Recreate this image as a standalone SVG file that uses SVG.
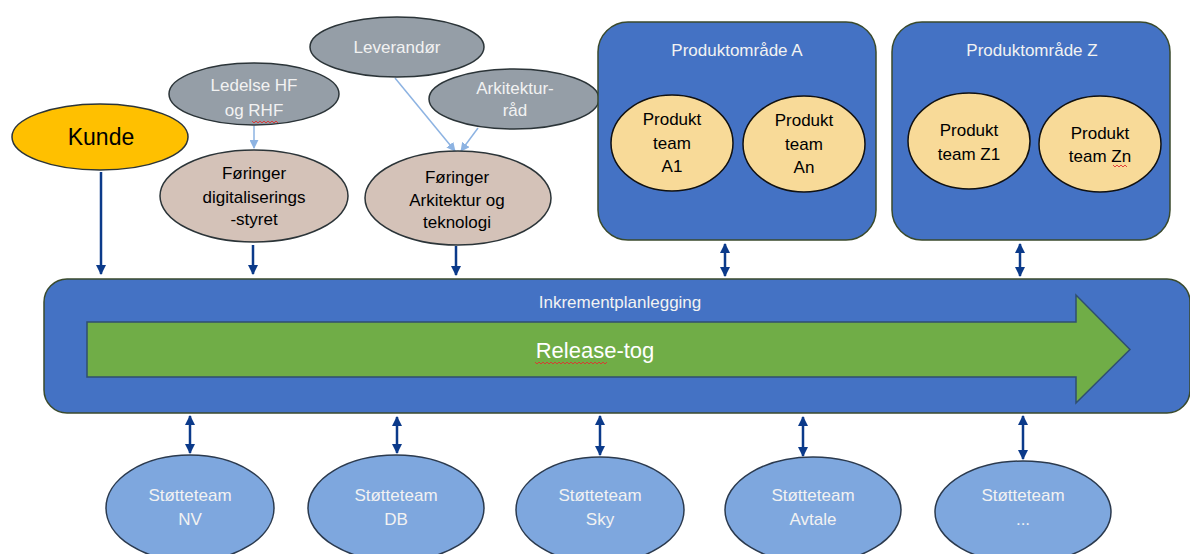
<svg xmlns="http://www.w3.org/2000/svg" width="1190" height="554" viewBox="0 0 1190 554">
  <defs>
    <marker id="ahDark" viewBox="0 0 10 10" refX="9" refY="5" markerWidth="4" markerHeight="4" orient="auto-start-reverse" markerUnits="strokeWidth">
      <path d="M0,0 L10,5 L0,10 z" fill="#0b3a8a"/>
    </marker>
    <marker id="ahLight" viewBox="0 0 10 10" refX="9" refY="5" markerWidth="6" markerHeight="6" orient="auto" markerUnits="strokeWidth">
      <path d="M0,0 L10,5 L0,10 z" fill="#8db3e2"/>
    </marker>
  </defs>
  <style>
    text { font-family: "Liberation Sans", Arial, sans-serif; text-anchor: middle; dominant-baseline: central; }
    .lbl { font-size: 17px; fill: #000; }
    .wlbl { font-size: 17px; fill: #f2f2f2; }
    .gray { fill: #959ea7; stroke: #2b3438; stroke-width: 1.5; }
    .beige { fill: #d4c2b8; stroke: #2b3438; stroke-width: 1.5; }
    .area { fill: #4472c4; stroke: #3a4a2c; stroke-width: 1.5; }
    .team { fill: #f8da98; stroke: #111; stroke-width: 1.5; }
    .support { fill: #7ea7de; stroke: #2b3a4e; stroke-width: 1.5; }
    .dark { stroke: #0b3a8a; stroke-width: 2.5; fill: none; }
    .light { stroke: #8db3e2; stroke-width: 1.5; fill: none; }
    .squig { stroke: #e03030; stroke-width: 0.9; fill: none; }
  </style>

  <!-- connectors -->
  <g id="connectors">
    <line class="dark" x1="101" y1="172" x2="101" y2="274" marker-end="url(#ahDark)"/>
    <line class="dark" x1="253" y1="245" x2="253" y2="274" marker-end="url(#ahDark)"/>
    <line class="dark" x1="456" y1="246" x2="456" y2="275" marker-end="url(#ahDark)"/>
    <line class="dark" x1="725" y1="244" x2="725" y2="276" marker-start="url(#ahDark)" marker-end="url(#ahDark)"/>
    <line class="dark" x1="1020" y1="244" x2="1020" y2="276" marker-start="url(#ahDark)" marker-end="url(#ahDark)"/>
    <line class="dark" x1="190" y1="416" x2="190" y2="453" marker-start="url(#ahDark)" marker-end="url(#ahDark)"/>
    <line class="dark" x1="397" y1="417" x2="397" y2="453" marker-start="url(#ahDark)" marker-end="url(#ahDark)"/>
    <line class="dark" x1="600" y1="416" x2="600" y2="455" marker-start="url(#ahDark)" marker-end="url(#ahDark)"/>
    <line class="dark" x1="803" y1="417" x2="803" y2="456" marker-start="url(#ahDark)" marker-end="url(#ahDark)"/>
    <line class="dark" x1="1023" y1="416" x2="1023" y2="459" marker-start="url(#ahDark)" marker-end="url(#ahDark)"/>
    <line class="light" x1="254" y1="126" x2="254" y2="148" marker-end="url(#ahLight)"/>
    <line class="light" x1="395" y1="78" x2="455" y2="151" marker-end="url(#ahLight)"/>
    <line class="light" x1="478" y1="128" x2="461" y2="151" marker-end="url(#ahLight)"/>
  </g>

  <!-- release train bar -->
  <g id="inkrementplanlegging">
    <rect class="area" x="44" y="279" width="1146" height="134" rx="23"/>
    <text class="wlbl" x="620" y="302">Inkrementplanlegging</text>
  </g>
  <g id="release-tog">
    <path d="M87,322 L1076,322 L1076,295 L1130,349.5 L1076,403 L1076,377 L87,377 Z" fill="#70ad47" stroke="#2f4f6f" stroke-width="1.5"/>
    <text x="595" y="350" style="font-size:22px;fill:#fff">Release-tog</text>
    <path class="squig" d="M535,362 l2,2 l2,-2 l2,2 l2,-2 l2,2 l2,-2 l2,2 l2,-2 l2,2 l2,-2 l2,2 l2,-2 l2,2 l2,-2 l2,2 l2,-2 l2,2 l2,-2 l2,2 l2,-2 l2,2 l2,-2 l2,2 l2,-2 l2,2 l2,-2 l2,2 l2,-2 l2,2 l2,-2 l2,2 l2,-2 l2,2 l2,-2 l2,2 l2,-2"/>
  </g>

  <!-- upper nodes -->
  <g id="kunde">
    <ellipse cx="100" cy="137" rx="88" ry="33" fill="#ffc000" stroke="#2b3438" stroke-width="1.5"/>
    <text x="101" y="137" style="font-size:23px;fill:#000">Kunde</text>
  </g>
  <g id="ledelse">
    <ellipse class="gray" cx="254" cy="94" rx="85" ry="31"/>
    <text class="wlbl" x="254" y="85">Ledelse HF</text>
    <text class="wlbl" x="254" y="110">og RHF</text>
    <path class="squig" d="M252,121 l2,2 l2,-2 l2,2 l2,-2 l2,2 l2,-2 l2,2 l2,-2 l2,2 l2,-2 l2,2 l2,-2 l2,2"/>
  </g>
  <g id="leverandor">
    <ellipse class="gray" cx="397" cy="47" rx="87" ry="30"/>
    <text class="wlbl" x="397" y="47">Leverandør</text>
  </g>
  <g id="arkitekturrad">
    <ellipse class="gray" cx="514" cy="99" rx="85" ry="30"/>
    <text class="wlbl" x="515" y="88">Arkitektur-</text>
    <text class="wlbl" x="515" y="110">råd</text>
  </g>
  <g id="foringer-digitalisering">
    <ellipse class="beige" cx="254" cy="196" rx="94" ry="46"/>
    <text class="lbl" x="254" y="173">Føringer</text>
    <text class="lbl" x="254" y="197">digitaliserings</text>
    <text class="lbl" x="254" y="219">-styret</text>
  </g>
  <g id="foringer-arkitektur">
    <ellipse class="beige" cx="458" cy="198" rx="93" ry="47"/>
    <text class="lbl" x="457" y="177">Føringer</text>
    <text class="lbl" x="457" y="200">Arkitektur og</text>
    <text class="lbl" x="457" y="222">teknologi</text>
  </g>

  <!-- product areas -->
  <g id="produktomrade-a">
    <rect class="area" x="598" y="22" width="278" height="218" rx="30"/>
    <text class="wlbl" x="737" y="50">Produktområde A</text>
  </g>
  <g id="team-a1">
    <ellipse class="team" cx="672" cy="143" rx="61" ry="48"/>
    <text class="lbl" x="672" y="119">Produkt</text>
    <text class="lbl" x="672" y="143">team</text>
    <text class="lbl" x="672" y="166">A1</text>
  </g>
  <g id="team-an">
    <ellipse class="team" cx="804" cy="144" rx="61" ry="48"/>
    <text class="lbl" x="804" y="120">Produkt</text>
    <text class="lbl" x="804" y="144">team</text>
    <text class="lbl" x="804" y="167">An</text>
  </g>
  <g id="produktomrade-z">
    <rect class="area" x="892" y="22" width="278" height="218" rx="30"/>
    <text class="wlbl" x="1032" y="50">Produktområde Z</text>
  </g>
  <g id="team-z1">
    <ellipse class="team" cx="969" cy="141" rx="61" ry="48"/>
    <text class="lbl" x="969" y="130">Produkt</text>
    <text class="lbl" x="969" y="154">team Z1</text>
  </g>
  <g id="team-zn">
    <ellipse class="team" cx="1100" cy="144" rx="61" ry="48"/>
    <text class="lbl" x="1100" y="133">Produkt</text>
    <text class="lbl" x="1100" y="156">team Zn</text>
    <path class="squig" d="M1113,165 l2,2 l2,-2 l2,2 l2,-2 l2,2 l2,-2 l2,2"/>
  </g>

  <!-- support teams -->
  <g id="stotte-nv">
    <ellipse class="support" cx="190" cy="508" rx="84" ry="53"/>
    <text class="wlbl" x="190" y="495">Støtteteam</text>
    <text class="wlbl" x="190" y="519">NV</text>
  </g>
  <g id="stotte-db">
    <ellipse class="support" cx="396" cy="508" rx="88" ry="53"/>
    <text class="wlbl" x="396" y="495">Støtteteam</text>
    <text class="wlbl" x="396" y="519">DB</text>
  </g>
  <g id="stotte-sky">
    <ellipse class="support" cx="600" cy="510" rx="84" ry="53"/>
    <text class="wlbl" x="600" y="495">Støtteteam</text>
    <text class="wlbl" x="600" y="519">Sky</text>
  </g>
  <g id="stotte-avtale">
    <ellipse class="support" cx="813" cy="510" rx="88" ry="53"/>
    <text class="wlbl" x="813" y="495">Støtteteam</text>
    <text class="wlbl" x="813" y="519">Avtale</text>
  </g>
  <g id="stotte-annet">
    <ellipse class="support" cx="1023" cy="512" rx="88" ry="51"/>
    <text class="wlbl" x="1023" y="495">Støtteteam</text>
    <text class="wlbl" x="1023" y="519">...</text>
  </g>
</svg>
